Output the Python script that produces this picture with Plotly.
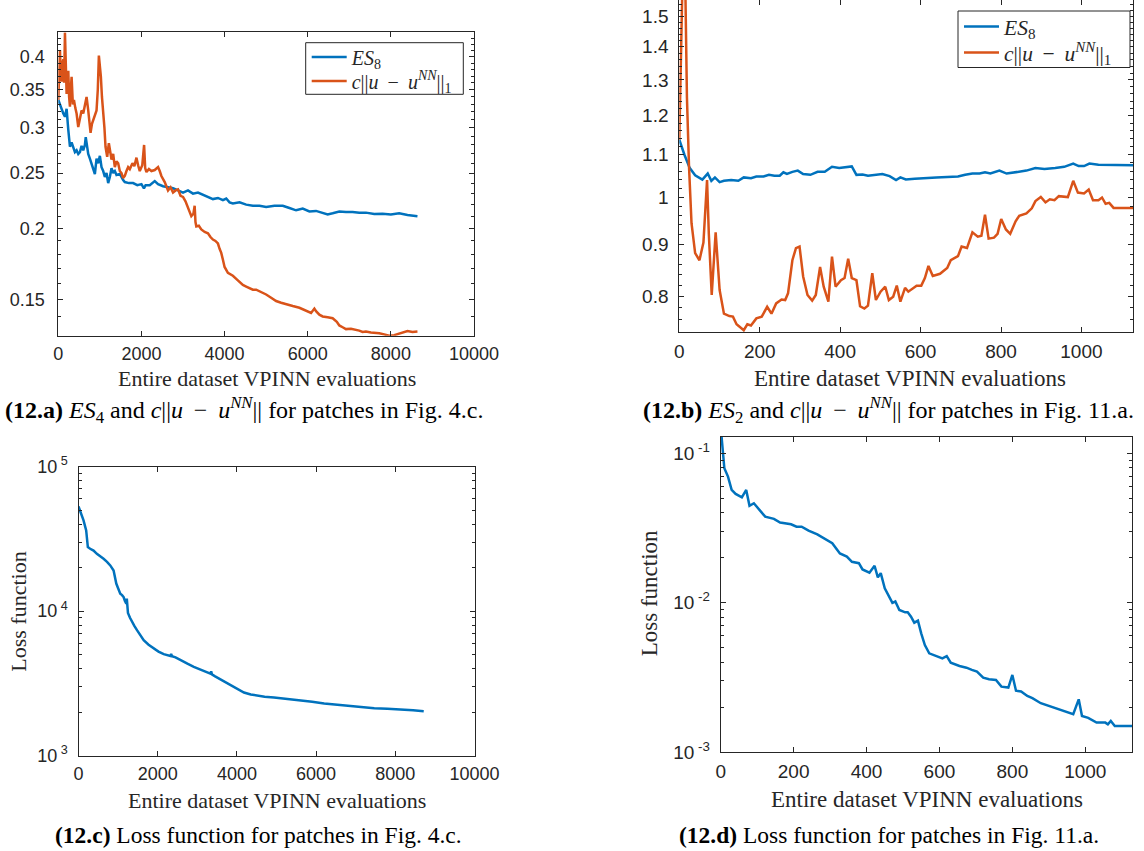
import plotly.graph_objects as go

# ---------------- data ----------------
# (12.a) error estimator vs. true error, patches of Fig. 4.c
a_x_es = [0, 40, 80, 120, 160, 200, 240, 280, 320, 360, 400, 440, 480, 520, 560, 600, 640, 660, 690, 720,
          760, 800, 840, 880, 920, 960, 1000, 1040, 1080, 1120, 1160, 1200, 1240, 1280, 1320, 1360, 1400,
          1480, 1560, 1600, 1700, 1800, 1900, 2000, 2060, 2100, 2200, 2320, 2400, 2520, 2640, 2760, 2880,
          3000, 3120, 3240, 3360, 3480, 3600, 3720, 3840, 3960, 4040, 4120, 4200, 4360, 4520, 4680, 4840,
          5000, 5200, 5400, 5560, 5720, 5880, 6040, 6200, 6340, 6480, 6600, 6760, 6920, 7080, 7240, 7400,
          7600, 7800, 8000, 8200, 8400, 8640]
a_y_es = [0.336, 0.330, 0.322, 0.318, 0.314, 0.324, 0.298, 0.278, 0.283, 0.276, 0.272, 0.274, 0.270, 0.272,
          0.279, 0.274, 0.280, 0.289, 0.279, 0.270, 0.265, 0.260, 0.256, 0.249, 0.265, 0.260, 0.268, 0.256,
          0.252, 0.246, 0.250, 0.240, 0.246, 0.255, 0.250, 0.252, 0.248, 0.249, 0.243, 0.241, 0.240, 0.240,
          0.238, 0.239, 0.235, 0.238, 0.238, 0.242, 0.239, 0.237, 0.236, 0.235, 0.233, 0.231, 0.233, 0.230,
          0.231, 0.229, 0.227, 0.225, 0.226, 0.224, 0.2255, 0.222, 0.221, 0.222, 0.220, 0.219, 0.219, 0.218,
          0.219, 0.219, 0.217, 0.215, 0.2165, 0.214, 0.2145, 0.213, 0.2115, 0.2125, 0.214, 0.2135, 0.2135,
          0.2128, 0.213, 0.2118, 0.212, 0.2115, 0.2125, 0.211, 0.210]

a_x_err = [0, 40, 60, 80, 100, 120, 140, 160, 180, 200, 220, 240, 260, 280, 300, 320, 350, 376, 410, 440,
           480, 520, 560, 600, 640, 680, 720, 750, 776, 810, 840, 880, 920, 950, 976, 1000, 1024, 1050, 1080,
           1110, 1136, 1176, 1216, 1250, 1280, 1320, 1360, 1400, 1440, 1480, 1520, 1560, 1600, 1640, 1680,
           1720, 1784, 1830, 1880, 1920, 1960, 2020, 2064, 2090, 2120, 2180, 2240, 2320, 2400, 2440, 2480,
           2560, 2640, 2700, 2760, 2820, 2880, 2940, 3000, 3060, 3120, 3160, 3200, 3250, 3280, 3300, 3320,
           3380, 3440, 3520, 3600, 3660, 3720, 3780, 3840, 3880, 3920, 3960, 4000, 4080, 4140, 4200, 4280,
           4360, 4440, 4520, 4600, 4680, 4760, 4840, 4920, 5000, 5120, 5240, 5360, 5480, 5640, 5800, 5960,
           6080, 6160, 6200, 6280, 6360, 6480, 6600, 6700, 6760, 6840, 6920, 7040, 7160, 7240, 7320, 7400,
           7520, 7640, 7720, 7840, 7960, 8080, 8200, 8320, 8400, 8520, 8640]
a_y_err = [0.336, 0.411, 0.370, 0.362, 0.390, 0.396, 0.360, 0.441, 0.390, 0.344, 0.370, 0.378, 0.340, 0.327,
           0.350, 0.369, 0.330, 0.336, 0.325, 0.318, 0.301, 0.312, 0.322, 0.318, 0.327, 0.340, 0.322, 0.310,
           0.294, 0.305, 0.310, 0.315, 0.322, 0.350, 0.402, 0.385, 0.369, 0.340, 0.322, 0.300, 0.278, 0.267,
           0.282, 0.270, 0.264, 0.270, 0.256, 0.262, 0.260, 0.252, 0.250, 0.245, 0.247, 0.252, 0.256, 0.254,
           0.260, 0.257, 0.266, 0.258, 0.252, 0.258, 0.280, 0.255, 0.251, 0.254, 0.252, 0.253, 0.256, 0.252,
           0.247, 0.241, 0.233, 0.236, 0.231, 0.233, 0.234, 0.228, 0.227, 0.223, 0.218, 0.214, 0.210, 0.212,
           0.219, 0.205, 0.2015, 0.202, 0.199, 0.197, 0.196, 0.193, 0.191, 0.190, 0.188, 0.184, 0.181, 0.176,
           0.171, 0.167, 0.166, 0.165, 0.163, 0.161, 0.159, 0.158, 0.157, 0.156, 0.156, 0.155, 0.154, 0.153,
           0.151, 0.149, 0.148, 0.147, 0.146, 0.145, 0.1435, 0.142, 0.1445, 0.143, 0.141, 0.140, 0.1395,
           0.139, 0.137, 0.135, 0.134, 0.133, 0.1332, 0.1328, 0.1322, 0.1315, 0.1317, 0.1312, 0.131, 0.1308,
           0.1302, 0.1295, 0.1298, 0.1306, 0.1318, 0.132, 0.1315, 0.1317]

# (12.b) error estimator vs. true error, patches of Fig. 11.a
b_x_es = [0, 12.5, 26, 39.4, 57.3, 70.7, 79.7, 88.6, 100.3, 111, 129, 146.8, 160.3, 178.2, 191.6, 209.5,
          223, 236.4, 249.8, 258.8, 267.7, 281.2, 294.6, 308, 326, 343.8, 361.7, 379.7, 397.6, 415.5, 428.9,
          440.5, 455.8, 469.2, 487.1, 505, 523, 539, 549.8, 563.2, 585.6, 612.5, 639.3, 666.2, 693, 711,
          728.9, 746.8, 760.2, 773.6, 796, 814, 836.3, 863.2, 885.6, 908, 934.8, 957.2, 979.6, 993, 1006.5,
          1019.9, 1042.3, 1078.1, 1129]
b_y_es = [1.137, 1.100, 1.067, 1.050, 1.040, 1.054, 1.037, 1.045, 1.034, 1.037, 1.039, 1.037, 1.045, 1.043,
          1.047, 1.047, 1.051, 1.049, 1.049, 1.057, 1.053, 1.058, 1.061, 1.053, 1.051, 1.058, 1.058, 1.070,
          1.067, 1.070, 1.071, 1.051, 1.052, 1.049, 1.051, 1.053, 1.048, 1.039, 1.045, 1.040, 1.042, 1.044,
          1.045, 1.046, 1.047, 1.051, 1.054, 1.054, 1.057, 1.054, 1.061, 1.054, 1.057, 1.061, 1.067, 1.065,
          1.067, 1.070, 1.078, 1.072, 1.072, 1.078, 1.075, 1.074, 1.074]

b_x_err = [0, 5, 9, 14, 19, 24.2, 30.4, 39.4, 50.1, 60, 69, 73.4, 80.6, 90.4, 100.3, 111, 124.5, 133.4,
           142.4, 160.3, 169.2, 178.2, 191.6, 205, 218.5, 229.2, 240.9, 254.3, 263.3, 270.4, 281.2, 290.1,
           299, 308, 318.8, 330.4, 339.4, 350.1, 359.1, 370.7, 379.7, 388.6, 402, 411, 420, 428.9, 440.5,
           449.5, 460.2, 469.2, 479.9, 488.9, 500.5, 512.2, 521.1, 531.9, 540.8, 549.8, 561.4, 569.5, 581.1,
           590.1, 601.7, 610.7, 619.6, 630.4, 648.3, 666.2, 675.1, 693, 702, 715.4, 728.9, 742.3, 751.3,
           760.2, 769.2, 782.6, 791.5, 800.5, 812.2, 822.9, 836.3, 845.3, 863.2, 876.6, 885.6, 899, 910.6,
           921.4, 933, 943.8, 966.2, 979.6, 991.2, 1006.5, 1018.1, 1028.8, 1042.3, 1051.2, 1060.2, 1069.2,
           1079.9, 1129]
b_y_err = [1.137, 1.45, 1.70, 1.70, 1.25, 1.070, 0.943, 0.882, 0.868, 0.903, 1.039, 0.921, 0.803, 0.924,
           0.812, 0.770, 0.766, 0.765, 0.752, 0.742, 0.752, 0.750, 0.762, 0.765, 0.782, 0.770, 0.788, 0.795,
           0.794, 0.806, 0.868, 0.892, 0.895, 0.837, 0.803, 0.793, 0.803, 0.855, 0.818, 0.791, 0.875, 0.818,
           0.830, 0.834, 0.871, 0.834, 0.830, 0.783, 0.779, 0.784, 0.843, 0.794, 0.809, 0.818, 0.794, 0.800,
           0.820, 0.791, 0.816, 0.809, 0.815, 0.820, 0.820, 0.834, 0.857, 0.838, 0.842, 0.853, 0.868, 0.876,
           0.895, 0.892, 0.924, 0.915, 0.917, 0.961, 0.911, 0.913, 0.921, 0.952, 0.930, 0.921, 0.947, 0.959,
           0.964, 0.975, 0.991, 1.000, 0.988, 0.995, 0.993, 1.002, 1.000, 1.037, 1.010, 1.008, 1.017, 0.993,
           0.993, 0.999, 0.985, 0.987, 0.976, 0.976]

# (12.c) loss history, patches of Fig. 4.c
c_x = [0, 60, 127, 194, 236, 295, 380, 464, 550, 633, 720, 802, 886, 920, 954, 1000, 1055, 1100, 1139, 1170,
       1207, 1220, 1249, 1300, 1350, 1410, 1477, 1560, 1646, 1770, 1899, 2020, 2152, 2250, 2321, 2340, 2360,
       2450, 2574, 2750, 2912, 3080, 3249, 3330, 3350, 3370, 3450, 3587, 3650, 3760, 3925, 4050, 4178,
       4350, 4516, 4700, 4937, 5250, 5613, 5900, 6204, 6550, 6879, 7150, 7469, 7800, 8145, 8450, 8718]
c_loss = [53000, 47500, 42400, 36100, 27700, 27000, 26200, 24900, 24000, 23000, 21900, 20700, 19100, 17000,
          15500, 14400, 13200, 12900, 12500, 11800, 11270, 12200, 9710, 9000, 8410, 7900, 7380, 6800, 6290,
          5850, 5510, 5250, 5040, 4960, 4900, 5050, 4880, 4780, 4575, 4330, 4117, 3930, 3760, 3700, 3830,
          3650, 3540, 3365, 3300, 3180, 2995, 2850, 2737, 2650, 2596, 2560, 2527, 2480, 2424, 2360, 2298,
          2245, 2202, 2165, 2133, 2108, 2089, 2065, 2033]

# (12.d) loss history, patches of Fig. 11.a
d_x = [0, 6, 10, 20, 30, 41, 58, 70, 79, 91, 106, 122, 146, 163, 193, 208, 222, 241, 265, 284, 306, 327,
       346, 360, 379, 389, 408, 422, 431, 439, 450, 471, 479, 490, 506, 513, 522, 531, 541, 550, 560, 572,
       589, 608, 620, 631, 655, 674, 689, 703, 720, 736, 755, 770, 789, 800, 810, 824, 841, 855, 878, 898,
       917, 937, 967, 982, 991, 1008, 1031, 1055, 1062, 1070, 1081, 1129]
d_loss = [0.15, 0.100, 0.0794, 0.0699, 0.0569, 0.0535, 0.0508, 0.0569, 0.0445, 0.0463, 0.0418, 0.0377,
          0.0364, 0.0344, 0.0335, 0.0323, 0.0323, 0.0304, 0.0287, 0.0270, 0.0250, 0.0214, 0.0204, 0.0188,
          0.0184, 0.0167, 0.0159, 0.0177, 0.0148, 0.0158, 0.0125, 0.0100, 0.0102, 0.00895, 0.00863,
          0.00863, 0.00807, 0.00736, 0.0076, 0.00625, 0.00522, 0.00459, 0.0044, 0.00425, 0.0044, 0.00398,
          0.00378, 0.00368, 0.00356, 0.00347, 0.00316, 0.00308, 0.00305, 0.00275, 0.00271, 0.00329,
          0.00258, 0.00255, 0.00238, 0.0023, 0.00213, 0.00205, 0.00197, 0.0019, 0.0018, 0.00226, 0.00175,
          0.0017, 0.00158, 0.00158, 0.00154, 0.00162, 0.0015, 0.0015]

# tick labels
big_x_ticks = [0, 2000, 4000, 6000, 8000, 10000]
small_x_ticks = [0, 200, 400, 600, 800, 1000]
a_y_ticks = [0.15, 0.2, 0.25, 0.3, 0.35, 0.4]
a_y_text = ["0.15", "0.2", "0.25", "0.3", "0.35", "0.4"]
b_y_ticks = [0.8, 0.9, 1.0, 1.1, 1.2, 1.3, 1.4, 1.5]
b_y_text = ["0.8", "0.9", "1", "1.1", "1.2", "1.3", "1.4", "1.5"]
c_y_ticks = [1e3, 1e4, 1e5]
c_y_text = ["10<sup> 3</sup>", "10<sup> 4</sup>", "10<sup> 5</sup>"]
d_y_ticks = [1e-3, 1e-2, 1e-1]
d_y_text = ["10<sup> -3</sup>", "10<sup> -2</sup>", "10<sup> -1</sup>"]

# legend entries
name_es = "<i>ES</i><sub>8</sub>"
name_err = "<i>c</i>||<i>u</i>\u2009 \u2212 \u2009<i>u</i><sup><i>NN</i></sup>||<sub>1</sub>"

# ---------------- styling ----------------
W, H = 1144, 851
BLUE = "#0072BD"
ORANGE = "#D95319"
AX = "#262626"
SANS = "Liberation Sans, Arial, Helvetica, sans-serif"
SERIF = "Liberation Serif, Times New Roman, DejaVu Serif, serif"


def px_x(p):
    return p / W


def px_y(p):
    return 1 - p / H


def axis(domain_px, rng, tickvals, ticktext=None, vertical=False, log=False, minor=None, size=18,
         anchor=None, standoff=2):
    if vertical:
        dom = [px_y(domain_px[1]), px_y(domain_px[0])]
    else:
        dom = [px_x(domain_px[0]), px_x(domain_px[1])]
    d = dict(
        domain=dom, range=rng, type="log" if log else "linear",
        tickmode="array", tickvals=tickvals,
        ticks="inside", ticklen=5, tickwidth=1, tickcolor=AX,
        showline=True, linecolor=AX, linewidth=1, mirror="ticks",
        showgrid=False, zeroline=False,
        tickfont=dict(family=SANS, size=size, color=AX),
        anchor=anchor, ticklabelstandoff=standoff,
    )
    d["ticktext"] = ticktext if ticktext is not None else [str(v) for v in tickvals]
    if minor is not None:
        d["minor"] = dict(tickmode="array", tickvals=minor, ticks="inside", ticklen=3,
                          tickcolor=AX, tickwidth=1, showgrid=False)
    return d


a_minor = [round(0.13 + 0.01 * i, 2) for i in range(32)]
b_minor = [round(0.74 + 0.02 * i, 2) for i in range(42)]
c_minor = [m * 10 ** e for e in (3, 4) for m in range(2, 10)]
d_minor = [m * 10.0 ** e for e in (-3, -2, -1) for m in range(2, 10)]

fig = go.Figure()

line_w = 2.5
fig.add_trace(go.Scatter(x=a_x_es, y=a_y_es, mode="lines", line=dict(color=BLUE, width=line_w),
                         name=name_es, xaxis="x", yaxis="y", legend="legend"))
fig.add_trace(go.Scatter(x=a_x_err, y=a_y_err, mode="lines", line=dict(color=ORANGE, width=line_w),
                         name=name_err, xaxis="x", yaxis="y", legend="legend2"))
fig.add_trace(go.Scatter(x=b_x_es, y=b_y_es, mode="lines", line=dict(color=BLUE, width=line_w),
                         name=name_es, xaxis="x2", yaxis="y2", legend="legend3"))
fig.add_trace(go.Scatter(x=b_x_err, y=b_y_err, mode="lines", line=dict(color=ORANGE, width=line_w),
                         name=name_err, xaxis="x2", yaxis="y2", legend="legend4"))
fig.add_trace(go.Scatter(x=c_x, y=c_loss, mode="lines", line=dict(color=BLUE, width=line_w),
                         showlegend=False, xaxis="x3", yaxis="y3"))
fig.add_trace(go.Scatter(x=d_x, y=d_loss, mode="lines", line=dict(color=BLUE, width=line_w),
                         showlegend=False, xaxis="x4", yaxis="y4"))

# subplot frames in pixels: (left, right, top, bottom)
A = (58.3, 474, 32.3, 335.7)
B = (679.3, 1133.3, 0, 332)
C = (78.5, 474.5, 466.5, 755.7)
D = (720.7, 1132.3, 437, 752.3)

# legend boxes in pixels: (left, right, top, bottom, row1, row2, font)
LA = (305.7, 463.3, 42.7, 94.3, 57, 81, 20)
LB = (958, 1130, 11, 67.5, 26.5, 52.5, 21.5)


def legend_row(box, row):
    return dict(x=px_x(box[0] + 1), y=px_y(row), xanchor="left", yanchor="middle",
                bgcolor="rgba(0,0,0,0)", borderwidth=0, itemwidth=35,
                font=dict(family=SERIF, size=box[6], color=AX), tracegroupgap=0)


layout = dict(
    width=W, height=H, margin=dict(l=0, r=0, t=0, b=0, autoexpand=False),
    paper_bgcolor="white", plot_bgcolor="white",
    xaxis=axis((A[0], A[1]), [0, 10000], big_x_ticks, anchor="y"),
    yaxis=axis((A[2], A[3]), [-0.8877, -0.3550], a_y_ticks, a_y_text, vertical=True, log=True,
               minor=a_minor, anchor="x", standoff=9),
    xaxis2=axis((B[0], B[1]), [0, 1129], small_x_ticks, anchor="y2", size=19),
    yaxis2=axis((B[2], B[3]), [-0.1313, 0.1917], b_y_ticks, b_y_text, vertical=True, log=True,
                minor=b_minor, anchor="x2", size=19, standoff=6),
    xaxis3=axis((C[0], C[1]), [0, 10000], big_x_ticks, anchor="y3"),
    yaxis3=axis((C[2], C[3]), [3, 5], c_y_ticks, c_y_text, vertical=True, log=True,
                minor=c_minor, anchor="x3", standoff=6),
    xaxis4=axis((D[0], D[1]), [0, 1129], small_x_ticks, anchor="y4", size=19),
    yaxis4=axis((D[2], D[3]), [-3, -0.891], d_y_ticks, d_y_text, vertical=True, log=True,
                minor=d_minor, anchor="x4", size=19, standoff=6),
    legend=legend_row(LA, LA[4]),
    legend2=legend_row(LA, LA[5]),
    legend3=legend_row(LB, LB[4]),
    legend4=legend_row(LB, LB[5]),
    shapes=[
        dict(type="rect", xref="paper", yref="paper", layer="above",
             x0=px_x(L[0]), x1=px_x(L[1]), y0=px_y(L[3]), y1=px_y(L[2]),
             line=dict(color=AX, width=1), fillcolor="white")
        for L in (LA, LB)
    ],
)
fig.update_layout(**layout)


def label(text, x, y, size, color=AX, angle=0):
    fig.add_annotation(text=text, x=px_x(x), y=px_y(y), xref="paper", yref="paper",
                       xanchor="center", yanchor="middle", showarrow=False, textangle=angle,
                       font=dict(family=SERIF, size=size, color=color))


xt = "Entire dataset VPINN evaluations"
label(xt, 266.7, 378, 22)
label(xt, 910, 378, 23)
label(xt, 277.3, 800, 22)
label(xt, 926.5, 799, 23)
label("Loss function", 19, 611.7, 22, angle=-90)
label("Loss function", 649.6, 593.7, 23, angle=-90)

norm = "<i>c</i>||<i>u</i>\u2009 \u2212 \u2009<i>u</i><sup><i>NN</i></sup>||"
label("<b>(12.a)</b> <i>ES</i><sub>4</sub> and " + norm + " for patches in Fig. 4.c.", 243.5, 410, 24,
      color="black")
label("<b>(12.b)</b> <i>ES</i><sub>2</sub> and " + norm + " for patches in Fig. 11.a.", 888.5, 410, 24,
      color="black")
label("<b>(12.c)</b> Loss function for patches in Fig. 4.c.", 258, 835, 23.5, color="black")
label("<b>(12.d)</b> Loss function for patches in Fig. 11.a.", 888.5, 835, 23.5, color="black")

# place the figure flush with the page corner
fig.write_html("out.html", post_script="document.body.style.margin='0';")
